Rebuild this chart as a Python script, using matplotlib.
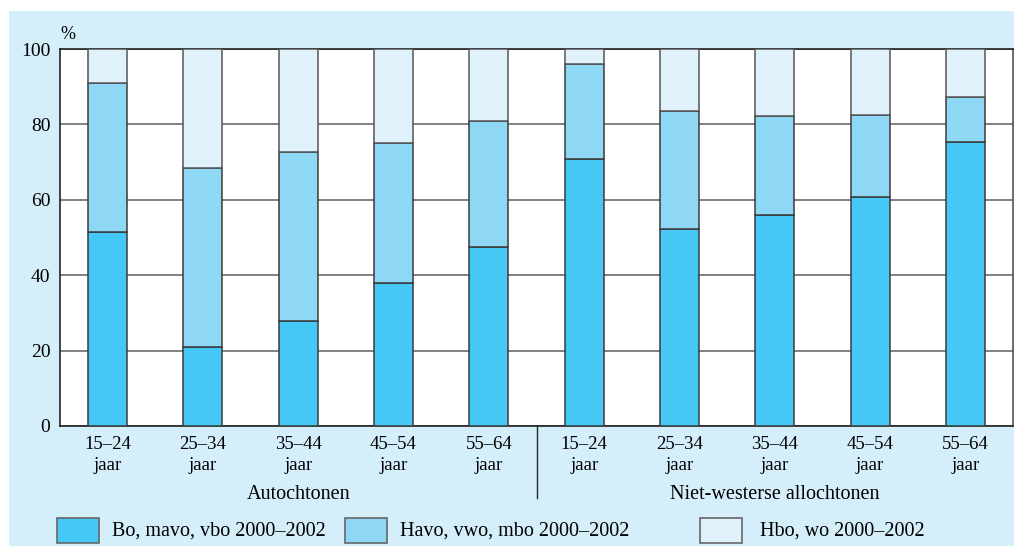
import matplotlib.pyplot as plt
import numpy as np
from matplotlib.patches import Rectangle
from matplotlib.lines import Line2D

ages = ['15–24\njaar', '25–34\njaar', '35–44\njaar', '45–54\njaar', '55–64\njaar']
groups = ['Autochtonen', 'Niet-westerse allochtonen']
labels = ages + ages

# cumulative tops (%)
bo = [51.5, 21.0, 27.9, 38.0, 47.5, 70.8, 52.3, 56.0, 60.8, 75.2]
bo_havo = [91.0, 68.5, 72.6, 75.1, 81.0, 96.1, 83.6, 82.3, 82.6, 87.4]
havo = [t - b for t, b in zip(bo_havo, bo)]
hbo = [100 - t for t in bo_havo]

series = ['Bo, mavo, vbo 2000–2002', 'Havo, vwo, mbo 2000–2002', 'Hbo, wo 2000–2002']
colors = ['#45c8f5', '#8ed8f6', '#dff2fc']
bg = '#d4eefa'

plt.rcParams['font.family'] = ['Liberation Serif', 'DejaVu Serif']
plt.rcParams['font.size'] = 13

fig = plt.figure(figsize=(10.14, 5.46), dpi=100)
fig.patches.append(Rectangle((9 / 1014, 0), 1, 535 / 546, transform=fig.transFigure,
                             facecolor=bg, edgecolor='none', zorder=-10))
ax = fig.add_axes([60 / 1014, 120 / 546, 953 / 1014, 377 / 546])
ax.set_facecolor('white')

x = np.arange(len(labels))
w = 0.41
ax.bar(x, bo, w, color=colors[0], edgecolor='#3a3a3a', linewidth=1.1, zorder=3)
ax.bar(x, havo, w, bottom=bo, color=colors[1], edgecolor='#3a3a3a', linewidth=1.1, zorder=3)
ax.bar(x, hbo, w, bottom=bo_havo, color=colors[2], edgecolor='#555555', linewidth=1.1, zorder=3)

ax.set_xlim(-0.5, len(labels) - 0.5)
ax.set_ylim(0, 100)
ax.set_yticks([0, 20, 40, 60, 80, 100])
ax.yaxis.grid(True, color='#808080', linewidth=1.4, zorder=0)
ax.set_xticks(x)
ax.set_xticklabels(labels, linespacing=1.35, fontsize=13.5)
ax.tick_params(length=0, pad=7)
ax.tick_params(axis='y', pad=7, labelsize=14)
for s in ax.spines.values():
    s.set_color('#222222')
    s.set_linewidth(1.2)
ax.spines['right'].set_color('#555555')

ax.text(0.0, 1.015, '%', transform=ax.transAxes, ha='left', va='bottom', fontsize=13)

# group labels and separator
ax.text(2, -0.183, groups[0], transform=ax.get_xaxis_transform(), ha='center', va='center', fontsize=14.5)
ax.text(7, -0.183, groups[1], transform=ax.get_xaxis_transform(), ha='center', va='center', fontsize=14.5)
ax.add_line(Line2D([4.5, 4.5], [0, -0.19], transform=ax.get_xaxis_transform(),
                   color='#222222', linewidth=1.0, clip_on=False))

# legend
px = [57, 345, 700]
tx = [112, 400, 760]
for i in range(3):
    fig.patches.append(Rectangle((px[i] / 1014, 3 / 546), 42 / 1014, 25 / 546,
                                 transform=fig.transFigure, facecolor=colors[i],
                                 edgecolor='#666666', linewidth=1.2))
    fig.text(tx[i] / 1014, 15 / 546, series[i], ha='left', va='center', fontsize=14.5)

fig.savefig('out.png', dpi=100, facecolor='white')
